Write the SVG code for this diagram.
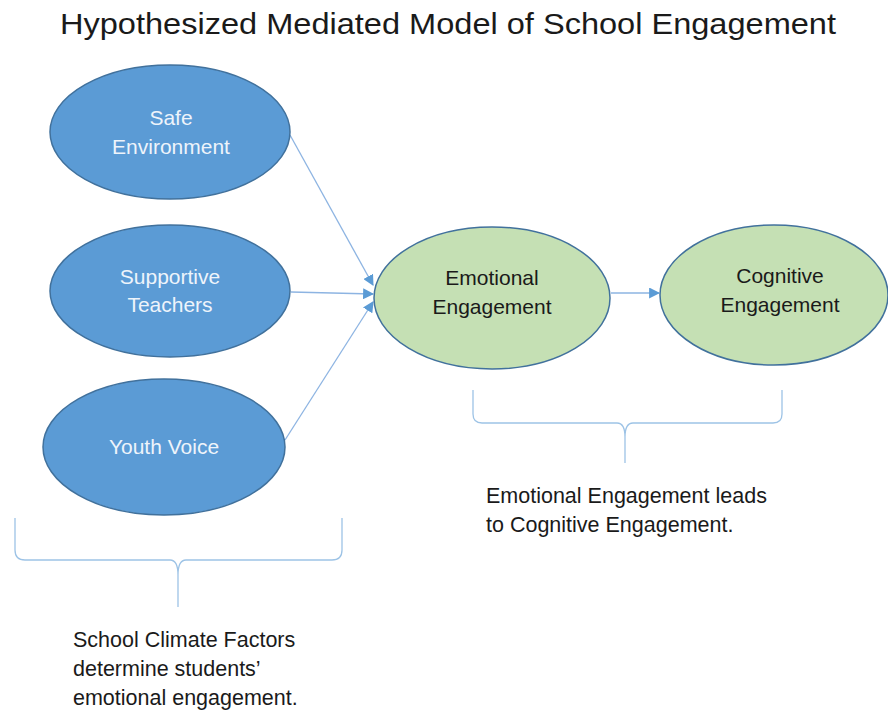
<svg xmlns="http://www.w3.org/2000/svg" width="888" height="710" viewBox="0 0 888 710">
  <defs>
    <marker id="arrow" viewBox="0 0 10 10" refX="9" refY="5" markerWidth="11" markerHeight="11" markerUnits="userSpaceOnUse" orient="auto">
      <path d="M0,0 L10,5 L0,10 z" fill="#5b9bd5"/>
    </marker>
    <style>
      .factor { fill: #5b9bd5; stroke: #41719c; stroke-width: 1.5; }
      .outcome { fill: #c5e0b4; stroke: #41719c; stroke-width: 1.5; }
      .light { font-family: "Liberation Sans", Arial, sans-serif; font-size: 21px; fill: #eef4fb; text-anchor: middle; }
      .dark { font-family: "Liberation Sans", Arial, sans-serif; font-size: 21px; fill: #1a1a1a; text-anchor: middle; }
      .note { font-family: "Liberation Sans", Arial, sans-serif; font-size: 21.5px; fill: #1a1a1a; }
      .title { font-family: "Liberation Sans", Arial, sans-serif; font-size: 30px; fill: #1a1a1a; text-anchor: middle; }
      .edge { stroke: #8db4e2; stroke-width: 1.3; fill: none; marker-end: url(#arrow); }
      .brace { stroke: #9dc3e6; stroke-width: 1.3; fill: none; }
    </style>
  </defs>
  <rect width="888" height="710" fill="#ffffff"/>

  <text class="title" x="448" y="34" textLength="776" lengthAdjust="spacingAndGlyphs">Hypothesized Mediated Model of School Engagement</text>

  <g id="connectors">
    <line class="edge" x1="290" y1="135" x2="373" y2="285"/>
    <line class="edge" x1="291" y1="292" x2="373" y2="294"/>
    <line class="edge" x1="285" y1="440" x2="373" y2="302"/>
    <line class="edge" x1="611" y1="293" x2="659" y2="293"/>
  </g>

  <g id="safe-environment">
    <ellipse class="factor" cx="170" cy="132" rx="120" ry="67"/>
    <text class="light" x="171" y="125">Safe</text>
    <text class="light" x="171" y="154">Environment</text>
  </g>

  <g id="supportive-teachers">
    <ellipse class="factor" cx="170" cy="291" rx="120" ry="66"/>
    <text class="light" x="170" y="284">Supportive</text>
    <text class="light" x="170" y="312">Teachers</text>
  </g>

  <g id="youth-voice">
    <ellipse class="factor" cx="164" cy="447" rx="121" ry="68"/>
    <text class="light" x="164" y="454">Youth Voice</text>
  </g>

  <g id="emotional-engagement">
    <ellipse class="outcome" cx="492" cy="298" rx="118" ry="71"/>
    <text class="dark" x="492" y="285">Emotional</text>
    <text class="dark" x="492" y="314">Engagement</text>
  </g>

  <g id="cognitive-engagement">
    <ellipse class="outcome" cx="774" cy="295" rx="114" ry="70"/>
    <text class="dark" x="780" y="283">Cognitive</text>
    <text class="dark" x="780" y="312">Engagement</text>
  </g>

  <g id="climate-brace">
    <path class="brace" d="M15,518 L15,550 Q15,560 25,560 L170,560 Q178,560 178,575 L178,607 M178,575 Q178,560 186,560 L332,560 Q342,560 342,550 L342,518"/>
    <text class="note" x="73" y="647">School Climate Factors</text>
    <text class="note" x="73" y="676">determine students’</text>
    <text class="note" x="73" y="705">emotional engagement.</text>
  </g>

  <g id="engagement-brace">
    <path class="brace" d="M473,390 L473,414 Q473,423 482,423 L617,423 Q625,423 625,437 L625,463 M625,437 Q625,423 633,423 L773,423 Q782,423 782,414 L782,390"/>
    <text class="note" x="486" y="503">Emotional Engagement leads</text>
    <text class="note" x="486" y="532">to Cognitive Engagement.</text>
  </g>
</svg>
